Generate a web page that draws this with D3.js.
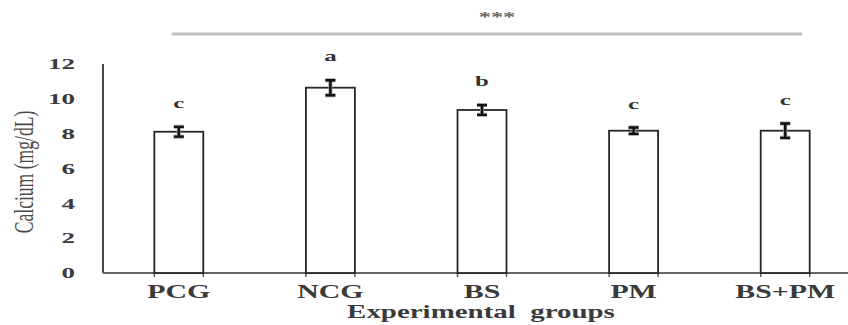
<!DOCTYPE html>
<html>
<head>
<meta charset="utf-8">
<script src="https://cdn.jsdelivr.net/npm/d3@7"></script>
<style>
  html, body { margin: 0; padding: 0; background: #fff; }
  svg { display: block; }
  text { font-family: "Liberation Serif", "Times New Roman", serif; }
</style>
</head>
<body>
<svg id="chart" width="848" height="325"></svg>
<script>
// Serum calcium by experimental group (mean ± error)
const groups = ["PCG", "NCG", "BS", "PM", "BS+PM"];
const calcium = [8.11, 10.64, 9.36, 8.17, 8.17];
const calciumErr = [0.28, 0.43, 0.28, 0.18, 0.41];
const letters = ["c", "a", "b", "c", "c"];
const yTicks = [0, 2, 4, 6, 8, 10, 12];
const yTitle = "Calcium (mg/dL)";
const xTitle = "Experimental  groups";
const sigMark = "***";

const svg = d3.select("#chart");

const x = d3.scaleBand()
  .domain(groups)
  .range([103, 861])
  .paddingInner(0.677)
  .paddingOuter(0.3385);

const y = d3.scaleLinear().domain([0, 12]).range([273, 64]);

// horizontal stretch applied to the text glyphs
const SX = 1.66;

// y axis
const yAxis = svg.append("g")
  .attr("transform", "translate(103,0)")
  .call(d3.axisLeft(y).tickValues(yTicks).tickSize(0).tickPadding(28));
yAxis.select(".domain").attr("stroke", "#1a1a1a").attr("stroke-width", 1.6)
  .attr("d", `M0,${y(12)}V${y(0)}`);
yAxis.selectAll(".tick text")
  .attr("x", -28 / 1.8)
  .attr("transform", "scale(1.8,1)")
  .attr("fill", "#3a3a3a")
  .style("font-size", "15px")
  .style("font-weight", "bold")
  .style("font-family", "'Liberation Serif', serif");

// x axis baseline
svg.append("line")
  .attr("x1", 103).attr("x2", 848)
  .attr("y1", y(0)).attr("y2", y(0))
  .attr("stroke", "#666").attr("stroke-width", 1.8);

// small ticks at each bar edge
const edges = groups.flatMap(g => [x(g), x(g) + x.bandwidth()]);
svg.append("g").selectAll("line").data(edges).join("line")
  .attr("x1", d => d).attr("x2", d => d)
  .attr("y1", y(0)).attr("y2", y(0) + 4)
  .attr("stroke", "#555").attr("stroke-width", 1.4);

// bars
svg.append("g").selectAll("rect").data(groups).join("rect")
  .attr("x", d => x(d))
  .attr("y", (d, i) => y(calcium[i]))
  .attr("width", x.bandwidth())
  .attr("height", (d, i) => y(0) - y(calcium[i]))
  .attr("fill", "#fff")
  .attr("stroke", "#262626")
  .attr("stroke-width", 1.8);

// error bars: soft grey halo under a dark core
const eb = svg.append("g");
groups.forEach((g, i) => {
  const cx = x(g) + x.bandwidth() / 2;
  const top = y(calcium[i] + calciumErr[i]);
  const bot = y(calcium[i] - calciumErr[i]);
  const path = `M${cx - 5},${top}H${cx + 5}M${cx},${top}V${bot}M${cx - 5},${bot}H${cx + 5}`;
  eb.append("path").attr("d", path).attr("stroke", "#9a9a9a").attr("stroke-width", 4).attr("fill", "none");
  eb.append("path").attr("d", path).attr("stroke", "#111").attr("stroke-width", 2.4).attr("fill", "none");
});

// significance letters above each bar
svg.append("g").selectAll("text").data(groups).join("text")
  .attr("transform", (d, i) => {
    const cx = x(d) + x.bandwidth() / 2;
    const ty = y(calcium[i] + calciumErr[i]) - 19;
    return `translate(${cx},${ty}) scale(${SX},1)`;
  })
  .attr("text-anchor", "middle")
  .attr("fill", "#333")
  .style("font-size", "15px")
  .style("font-weight", "bold")
  .text((d, i) => letters[i]);

// category labels
svg.append("g").selectAll("text").data(groups).join("text")
  .attr("transform", d => `translate(${x(d) + x.bandwidth() / 2},298) scale(${SX},1)`)
  .attr("text-anchor", "middle")
  .attr("fill", "#3a3a3a")
  .style("font-size", "18px")
  .style("font-weight", "bold")
  .text(d => d);

// x axis title
const xt = svg.append("text")
  .attr("text-anchor", "middle")
  .attr("fill", "#3a3a3a")
  .style("font-size", "18px")
  .style("font-weight", "bold")
  .style("white-space", "pre")
  .attr("xml:space", "preserve")
  .text(xTitle);
const xtLen = xt.node().getComputedTextLength();
xt.attr("transform", `translate(481,318) scale(${268 / xtLen},1)`);

// y axis title, rotated
svg.append("text")
  .attr("transform", "translate(33,172) scale(1.5,1) rotate(-90)")
  .attr("text-anchor", "middle")
  .attr("fill", "#4a4a4a")
  .style("font-size", "17.6px")
  .text(yTitle);

// overall significance bracket
svg.append("line")
  .attr("x1", x("PCG") + x.bandwidth() / 2 - 7)
  .attr("x2", x("BS+PM") + x.bandwidth() / 2 + 17)
  .attr("y1", 34).attr("y2", 34)
  .attr("stroke", "#c0c0c0").attr("stroke-width", 3);

svg.append("text")
  .attr("transform", `translate(${x("BS") + x.bandwidth() / 2 + 15},22) scale(1.75,1)`)
  .attr("text-anchor", "middle")
  .attr("fill", "#6a6a6a")
  .style("font-size", "14px")
  .style("font-weight", "bold")
  .text(sigMark);
</script>
</body>
</html>
